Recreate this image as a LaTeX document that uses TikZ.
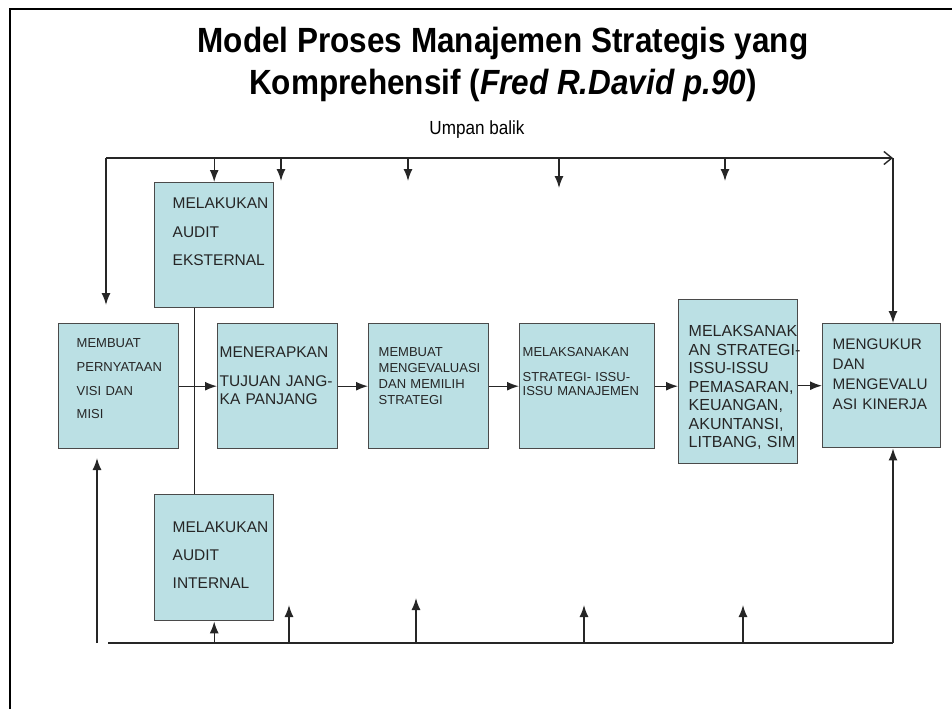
\documentclass[tikz,border=0pt]{standalone}
\usepackage{fontspec}
\setmainfont{Liberation Sans}
\newfontfamily\narrowfont[FakeStretch=0.9]{Liberation Sans}
\usetikzlibrary{arrows.meta}
\definecolor{boxfill}{HTML}{BBE0E4}
\definecolor{boxline}{HTML}{4A4A4A}
\definecolor{inkline}{HTML}{262626}
\uchyph=0

\begin{document}
\begin{tikzpicture}[x=1pt, y=-1pt,
  box/.style={draw=boxline, line width=1.4pt, fill=boxfill, anchor=north west, inner sep=0pt, align=left, text=black!85},
  lpad/.style={execute at begin node={\leftskip=#1\rightskip=0pt plus 1fil minus 40pt\relax}},
  arrow/.style={-{Latex[length=12pt,width=9pt]}, line width=1.4pt, draw=inkline},
  fbline/.style={line width=1.4pt, draw=inkline}
]
  \useasboundingbox (0,0) rectangle (952,709);
  \draw[line width=2pt] (10,709) -- (10,9) -- (952,9);

  \node[font=\narrowfont\bfseries\fontsize{35}{42}\selectfont, align=center, inner sep=0pt, anchor=north] (title) at (503,27) {Model Proses Manajemen Strategis yang\\Komprehensif (\textit{Fred R.David p.90})};
  \node[font=\narrowfont\fontsize{19}{22}\selectfont, anchor=base] (umpan) at (477,134) {Umpan balik};

  \node[box, text width=119pt, text height=26pt, text depth=99pt, lpad=18pt, font=\fontsize{15.5}{28.5}\selectfont] (ext) at (154,182) {MELAKUKAN\\AUDIT\\EKSTERNAL};
  \node[box, text width=120pt, text height=24pt, text depth=101pt, lpad=18pt, font=\fontsize{13}{23.7}\selectfont] (visi) at (58,323) {MEMBUAT\\PERNYATAAN\\VISI DAN\\MISI};
  \node[box, text width=120pt, text height=34pt, text depth=91pt, lpad=2pt, font=\fontsize{15.5}{18}\selectfont] (tujuan) at (217,323) {MENERAPKAN\\[11pt]TUJUAN JANG-\\KA PANJANG};
  \node[box, text width=120pt, text height=33pt, text depth=92pt, lpad=10pt, font=\fontsize{13}{16}\selectfont] (strat) at (368,323) {MEMBUAT\\MENGEVALUASI\\DAN MEMILIH\\STRATEGI};
  \node[box, text width=135pt, text height=33pt, text depth=92pt, lpad=3pt, font=\fontsize{13}{14.5}\selectfont] (melaks) at (519,323) {MELAKSANAKAN\\[10pt]STRATEGI- ISSU-\\ISSU MANAJEMEN};
  \node[box, text width=119pt, text height=37pt, text depth=127pt, lpad=10pt, font=\fontsize{16}{18.5}\selectfont] (pem) at (678,299) {MELAKSANAK\\AN STRATEGI-\\ISSU-ISSU\\PEMASARAN,\\KEUANGAN,\\AKUNTANSI,\\LITBANG, SIM};
  \node[box, text width=118pt, text height=26pt, text depth=98pt, lpad=10pt, font=\fontsize{15.3}{20}\selectfont] (meng) at (822,323) {MENGUKUR\\DAN\\MENGEVALU\\ASI KINERJA};
  \node[box, text width=119pt, text height=38pt, text depth=88pt, lpad=18pt, font=\fontsize{15.5}{28}\selectfont] (int) at (154,494) {MELAKUKAN\\AUDIT\\INTERNAL};

  \coordinate (fbtl) at (106,158);
  \coordinate (fbtr) at (893,158);
  \coordinate (fbbl) at (108,643);
  \coordinate (fbbr) at (893,643);
  \coordinate (visdown) at (106,305);
  \coordinate (lowbl) at (97,643);
  \coordinate (visup) at (97,458);

  \draw[fbline, -{Straight Barb[length=8pt,width=13pt]}] (fbtl) -- (fbtr);
  \draw[arrow] (fbtr) -- (fbtr |- meng.north);
  \draw[arrow] (fbtl) -- (visdown);
  \draw[arrow] (fbtl -| ext.north) -- (ext.north);
  \foreach \x/\y [count=\i] in {281/181, 408/181, 559/188, 725/181} {
    \coordinate (drop\i) at (\x,\y);
    \draw[arrow] (drop\i |- fbtl) -- (drop\i);
  }

  \draw[fbline] ([xshift=-20pt]ext.south) -- ([xshift=-20pt]int.north);

  \draw[arrow] (visi.east) -- (tujuan.west);
  \draw[arrow] (tujuan.east) -- (strat.west);
  \draw[arrow] (strat.east) -- (melaks.west);
  \draw[arrow] (melaks.east) -- (melaks.east -| pem.west);
  \draw[arrow] (meng.west -| pem.east) -- (meng.west);

  \draw[fbline] (fbbl) -- (fbbr);
  \draw[arrow] (fbbr) -- (fbbr |- meng.south);
  \draw[arrow] (lowbl) -- (visup);
  \draw[arrow] (fbbl -| int.south) -- (int.south);
  \foreach \x/\y [count=\i] in {289/605, 416/598, 584/605, 743/605} {
    \coordinate (rise\i) at (\x,\y);
    \draw[arrow] (rise\i |- fbbl) -- (rise\i);
  }
\end{tikzpicture}
\end{document}
